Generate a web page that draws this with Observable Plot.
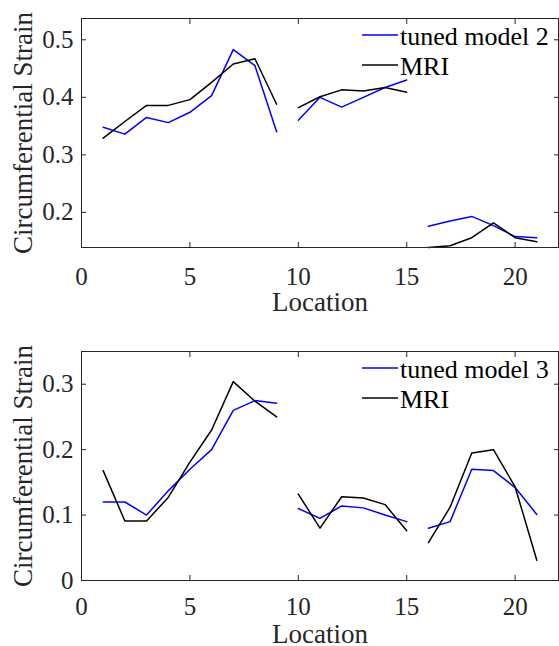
<!DOCTYPE html>
<html><head><meta charset="utf-8">
<script src="https://cdn.jsdelivr.net/npm/d3@7"></script>
<script src="https://cdn.jsdelivr.net/npm/@observablehq/plot@0.6"></script>
<style>
body{margin:0;background:#fff;}
#chart{width:559px;}
#chart svg{display:block;}
</style>
</head><body><div id="chart"></div>
<script>
const locations = [1,2,3,4,5,6,7,8,9,10,11,12,13,14,15,16,17,18,19,20,21];
const segments  = [1,1,1,1,1,1,1,1,1,2,2,2,2,2,2,3,3,3,3,3,3];

const model2 = [0.348,0.336,0.365,0.356,0.374,0.403,0.483,0.455,0.340,
                0.360,0.400,0.383,0.400,0.417,0.430,
                0.176,0.185,0.193,0.177,0.158,0.156];
const mri2   = [0.329,0.358,0.386,0.386,0.396,0.426,0.458,0.467,0.388,
                0.382,0.401,0.413,0.411,0.417,0.409,
                0.139,0.142,0.156,0.182,0.156,0.149];

const model3 = [0.120,0.120,0.100,0.137,0.170,0.200,0.260,0.275,0.271,
                0.110,0.095,0.114,0.111,0.100,0.090,
                0.080,0.090,0.170,0.168,0.142,0.101];
const mri3   = [0.168,0.091,0.091,0.127,0.181,0.230,0.304,0.274,0.250,
                0.132,0.080,0.128,0.126,0.116,0.076,
                0.058,0.112,0.195,0.200,0.143,0.031];

const xTicks = [0,5,10,15,20];
const yTicksTop = [0.2,0.3,0.4,0.5];
const yTicksBottom = [0,0.1,0.2,0.3];
const yDomainTop = [0.139,0.537];
const yDomainBottom = [0,0.35];
const xDomain = [0,22];
const xLabel = "Location";
const yLabel = "Circumferential Strain";
const legendTop = ["tuned model 2","MRI"];
const legendBottom = ["tuned model 3","MRI"];

const AX = "#262626";
const FONT = "Liberation Serif, Times New Roman, serif";

function rows(vals){ return locations.map((x,i)=>({x, seg: segments[i], v: vals[i]})); }

function panel(model, mri, names, yDomain, yTicks, marginTop, marginBottom, xPad, labelDy){
  const W = 559, H = 323, ML = 81, MR = 1;
  const svg = Plot.plot({
    width: W, height: H,
    marginLeft: ML, marginRight: MR, marginTop, marginBottom,
    style: {fontFamily: FONT, fontSize: "25px", color: AX, background: "#fff", overflow: "visible"},
    x: {domain: xDomain},
    y: {domain: yDomain},
    marks: [
      Plot.line(rows(model), {x:"x", y:"v", z:"seg", stroke:"#0000ff", strokeWidth:1.5}),
      Plot.line(rows(mri), {x:"x", y:"v", z:"seg", stroke:"#000000", strokeWidth:1.5}),
      Plot.frame({stroke: AX, strokeWidth: 1}),
      Plot.axisX({anchor:"bottom", ticks: xTicks, tickSize:-5, tickFormat: () => "", label: null, stroke: AX}),
      Plot.axisX({anchor:"top", ticks: xTicks, tickSize:-5, tickFormat: () => "", label: null, stroke: AX}),
      Plot.axisY({anchor:"left", ticks: yTicks, tickSize:-5, tickFormat: () => "", label: null, stroke: AX}),
      Plot.axisY({anchor:"right", ticks: yTicks, tickSize:-5, tickFormat: () => "", label: null, stroke: AX}),
      Plot.axisX({anchor:"bottom", ticks: xTicks, tickSize:0, tickPadding: xPad, label: null, fontSize: 25, fill: AX}),
      Plot.axisY({anchor:"left", ticks: yTicks, tickSize:0, tickPadding: 8, label: null, fontSize: 25, fill: AX,
                  tickFormat: d => String(d)}),
      Plot.text([xLabel], {frameAnchor:"bottom", dy: labelDy, textAnchor:"middle", lineAnchor:"middle", fontSize: 27, fill: AX}),
      Plot.text([yLabel], {frameAnchor:"left", dx: -58, rotate: -90, textAnchor:"middle", lineAnchor:"middle", fontSize: 27, fill: AX})
    ]
  });
  // legend
  const g = d3.select(svg).append("g").attr("font-family", FONT).attr("font-size", 26)
    .attr("fill", "#000").attr("text-anchor", "start");
  const colors = ["#0000ff","#000000"];
  names.forEach((name, i) => {
    const y = marginTop + 17 + i * 30;
    g.append("line").attr("x1", 362).attr("x2", 398).attr("y1", y).attr("y2", y)
      .attr("stroke", colors[i]).attr("stroke-width", 1.5);
    g.append("text").attr("x", 400).attr("y", y + 9.5).attr("text-anchor", "start").text(name);
  });
  return svg;
}

const root = document.getElementById("chart");
root.appendChild(panel(model2, mri2, legendTop, yDomainTop, yTicksTop, 18, 76, 20, 55));
root.appendChild(panel(model3, mri3, legendBottom, yDomainBottom, yTicksBottom, 28, 66, 17, 54));
</script>
</body></html>
